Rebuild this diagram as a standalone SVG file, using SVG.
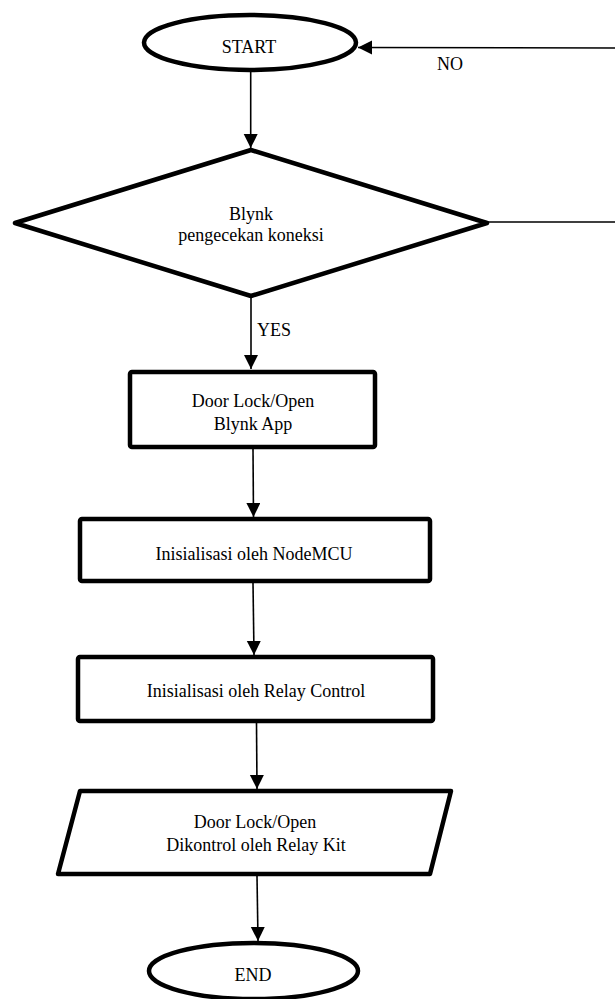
<svg xmlns="http://www.w3.org/2000/svg" width="615" height="999" viewBox="0 0 615 999">
<style>
.node{fill:#fff;stroke:#000;stroke-width:4.5;stroke-linejoin:round}
.t{font-family:"Liberation Serif","Times New Roman",serif;font-size:18px;fill:#000;text-anchor:middle}
.c{fill:none;stroke:#000;stroke-width:1.6}
</style>
<defs>
<marker id="ah" markerUnits="userSpaceOnUse" markerWidth="15" markerHeight="15" refX="14" refY="7" orient="auto">
<path d="M0,0 L14,7 L0,14 z" fill="#000"/>
</marker>
</defs>
<rect width="615" height="999" fill="#fff"/>
<g id="connectors">
<path class="c" d="M250.7,72 L250.7,148" marker-end="url(#ah)"/>
<path class="c" d="M487,222 H615 M615,48 L358,47.5" marker-end="url(#ah)"/>
<path class="c" d="M251,298 L251,369" marker-end="url(#ah)"/>
<path class="c" d="M253,449 L253.5,517" marker-end="url(#ah)"/>
<path class="c" d="M253,583 L254,655" marker-end="url(#ah)"/>
<path class="c" d="M256.5,723 L257,789" marker-end="url(#ah)"/>
<path class="c" d="M257,876 L258,941" marker-end="url(#ah)"/>
</g>
<g id="start">
<ellipse class="node" cx="250" cy="42.5" rx="106" ry="27.5"/>
<text class="t" x="249" y="53">START</text>
</g>
<text class="t" x="450" y="70">NO</text>
<g id="check">
<polygon class="node" points="15,223 251,150 487,223 251,296"/>
<text class="t" x="251" y="220" font-size="17">Blynk</text>
<text class="t" x="251" y="241" font-size="17">pengecekan koneksi</text>
</g>
<text class="t" x="274" y="336">YES</text>
<g id="blynkapp">
<rect class="node" x="130" y="372" width="245" height="75" rx="2"/>
<text class="t" x="253" y="407">Door Lock/Open</text>
<text class="t" x="253" y="430">Blynk App</text>
</g>
<g id="nodemcu">
<rect class="node" x="80" y="519" width="350" height="62" rx="2"/>
<text class="t" x="254" y="560">Inisialisasi oleh NodeMCU</text>
</g>
<g id="relay">
<rect class="node" x="78" y="657" width="355" height="64" rx="2"/>
<text class="t" x="256" y="697">Inisialisasi oleh Relay Control</text>
</g>
<g id="relaykit">
<polygon class="node" points="80,791 451,791 430,874 58,874"/>
<text class="t" x="255" y="828">Door Lock/Open</text>
<text class="t" x="256" y="851">Dikontrol oleh Relay Kit</text>
</g>
<g id="end">
<ellipse class="node" cx="253.5" cy="971" rx="104.5" ry="28"/>
<text class="t" x="253" y="981">END</text>
</g>
</svg>
